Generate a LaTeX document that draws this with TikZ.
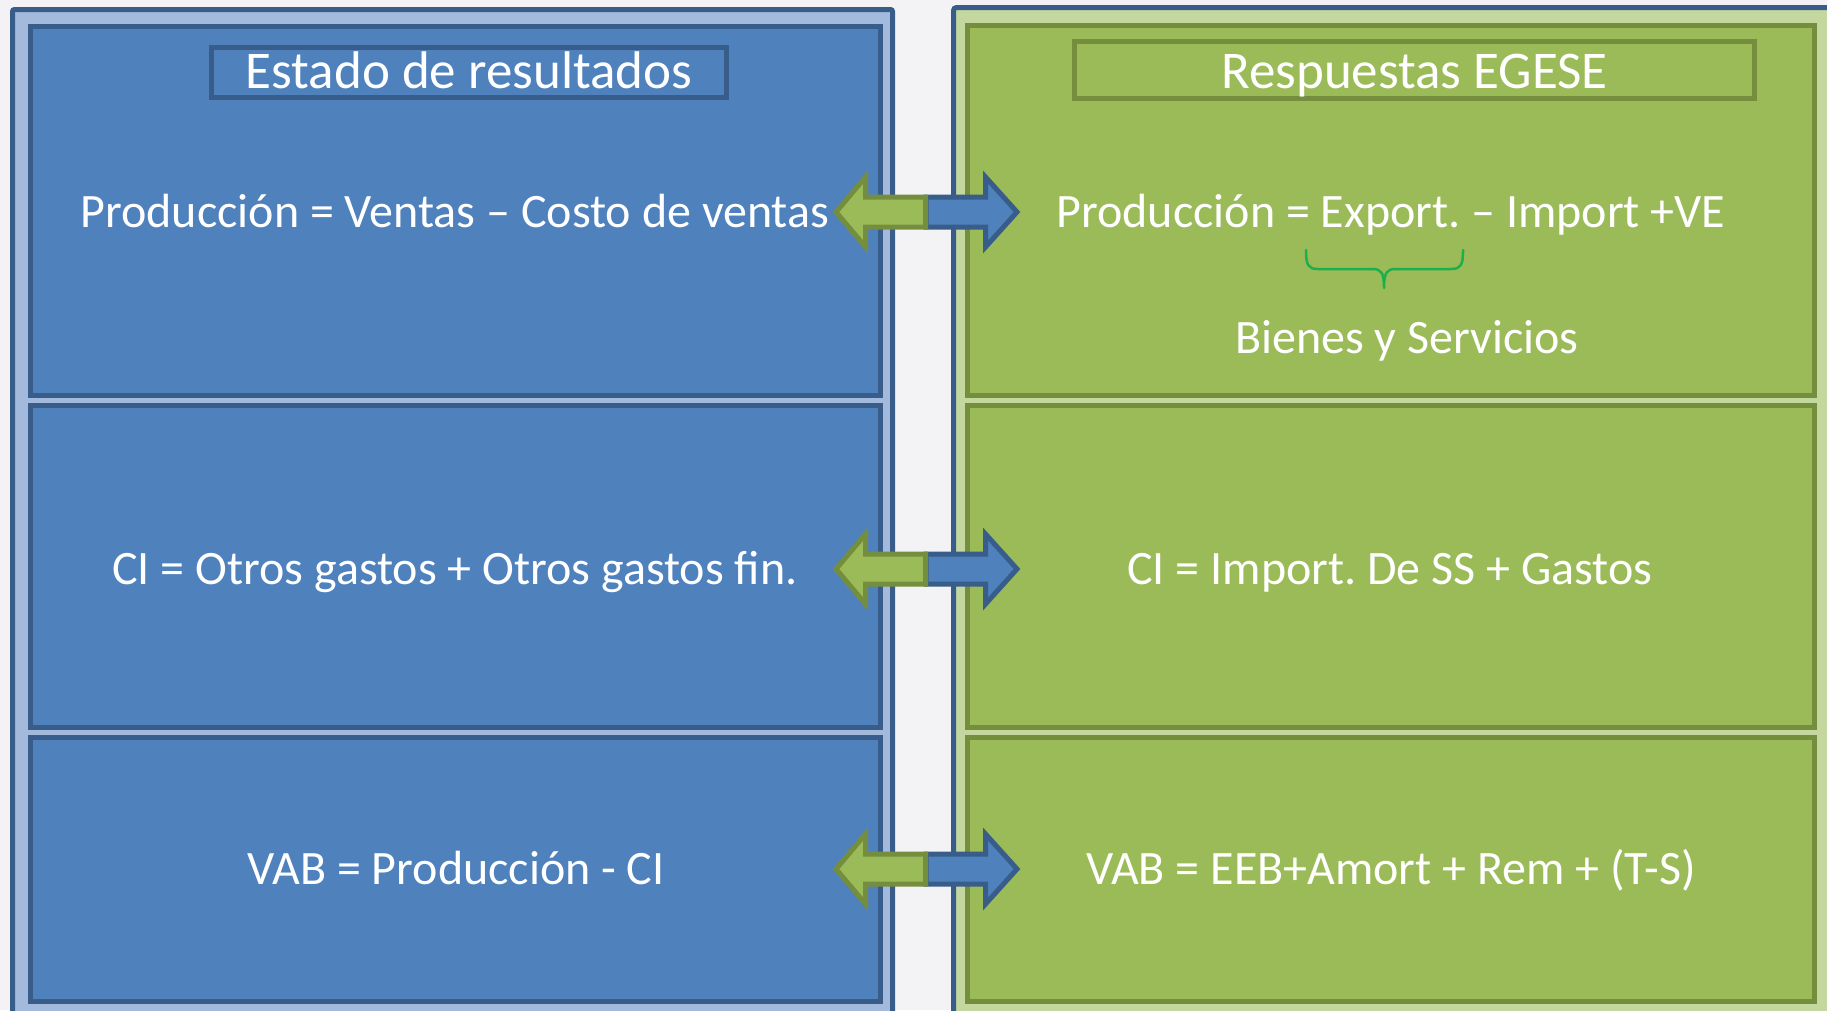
\documentclass[tikz,border=0pt]{standalone}
\usepackage{fontspec}
\setmainfont{Carlito}
\usetikzlibrary{calc}
\frenchspacing
\definecolor{bgc}{HTML}{F3F3F5}
\definecolor{bfill}{HTML}{4F81BD}
\definecolor{bdark}{HTML}{385D8A}
\definecolor{gfill}{HTML}{9BBB59}
\definecolor{gdark}{HTML}{748E3E}
\definecolor{bpat}{HTML}{A3BADC}
\definecolor{gpat}{HTML}{C4D79E}
\definecolor{bracec}{HTML}{1DAF4B}
\tikzset{
  panel/.style={draw=bdark, line width=5pt},
  lbox/.style={draw=bdark, fill=bfill, line width=5pt, inner sep=0pt, outer sep=0pt},
  rbox/.style={draw=gdark, fill=gfill, line width=5pt, inner sep=0pt, outer sep=0pt},
  ltitle/.style={draw=bdark, line width=5pt, inner sep=0pt, minimum width=514.5pt, minimum height=50pt},
  rtitle/.style={draw=gdark, line width=5pt, inner sep=0pt, minimum width=680pt, minimum height=57pt},
  body/.style={text=white, inner sep=0pt, anchor=base, font=\fontsize{48}{53}\selectfont},
  ttext/.style={text=white, inner sep=0pt, anchor=base, font=\fontsize{53}{58}\selectfont},
  garrow/.style={draw=gdark, fill=gfill, line width=5pt, line join=miter},
  barrow/.style={draw=bdark, fill=bfill, line width=5pt, line join=miter},
}
\begin{document}
\begin{tikzpicture}[x=1pt,y=-1pt]
\useasboundingbox (0,0) rectangle (1827,1010);
\fill[bgc] (0,0) rectangle (1827,1010);
% outer panels
\draw[panel, fill=bpat, rounded corners=2pt] (12.5,9.5) rectangle (892.5,1040);
\draw[panel, fill=gpat, rounded corners=3pt] (953.5,7.5) rectangle (1860,1040);
% left boxes
\node[lbox, minimum width=850pt, minimum height=369pt] (L1) at (455.5,211) {};
\node[lbox, minimum width=850pt, minimum height=321.5pt] (L2) at (455.5,566.25) {};
\node[lbox, minimum width=850pt, minimum height=264.5pt] (L3) at (455.5,869.25) {};
% right boxes
\node[rbox, minimum width=847pt, minimum height=370pt] (R1) at (1391,210.5) {};
\node[rbox, minimum width=847pt, minimum height=321.5pt] (R2) at (1391,566.25) {};
\node[rbox, minimum width=847pt, minimum height=264.5pt] (R3) at (1391,869.25) {};
% titles
\node[ltitle] (LT) at (469,72.5) {};
\node[rtitle] (RT) at (1414.5,70) {};
\node[ttext] (LTt) at (469,88) {Estado de resultados};
\node[ttext] (RTt) at (1414.5,88) {Respuestas EGESE};
% texts
\node[body] (l1) at (455,227) {Producción = Ventas – Costo de ventas};
\node[body] (l2) at (455,584) {CI = Otros gastos + Otros gastos fin.};
\node[body] (l3) at (456,884) {VAB = Producción - CI};
\node[body] (r1) at (1391,227) {Producción = Export. – Import +VE};
\node[body] (r1b) at (1407,353) {Bienes y Servicios};
\node[body] (r2) at (1390,584) {CI = Import. De SS + Gastos};
\node[body] (r3) at (1391,884) {VAB = EEB+Amort + Rem + (T-S)};
% brace
\draw[bracec, line width=2.5pt, line cap=round, line join=round]
  (1306,250) .. controls (1306,265) and (1308,269) .. (1318,269) -- (1372,269)
  .. controls (1381,269) and (1384,272) .. (1384,288)
  .. controls (1384,272) and (1387,269) .. (1396,269) -- (1451,269)
  .. controls (1461,269) and (1463,265) .. (1463,250);
% double arrows
\foreach \yy/\n in {212/1,569/2,869/3}{
  \coordinate (m\n) at (928,\yy);
  \begin{scope}[shift={(m\n)}]
    \draw[barrow] (-2,-15) -- (57.5,-15) -- (57.5,-35) -- (89,0) -- (57.5,35) -- (57.5,15) -- (-2,15) -- cycle;
    \draw[garrow] (-2.5,-15) -- (-62.5,-15) -- (-62.5,-35) -- (-92,0) -- (-62.5,35) -- (-62.5,15) -- (-2.5,15) -- cycle;
  \end{scope}
}
\end{tikzpicture}
\end{document}
